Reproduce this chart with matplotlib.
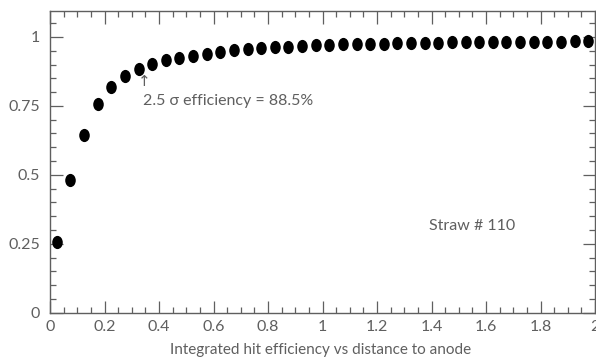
import matplotlib
matplotlib.use("Agg")
import matplotlib.pyplot as plt
from matplotlib.markers import MarkerStyle
from matplotlib.transforms import Affine2D
from matplotlib.ticker import MultipleLocator, FuncFormatter

distance = [0.025 + 0.05 * i for i in range(40)]
efficiency = [0.256, 0.481, 0.646, 0.755, 0.819, 0.858, 0.883, 0.902, 0.915, 0.925,
              0.932, 0.938, 0.945, 0.951, 0.955, 0.959, 0.963, 0.965, 0.967, 0.970,
              0.972, 0.973, 0.974, 0.975, 0.976, 0.977, 0.978, 0.978, 0.979, 0.980,
              0.980, 0.981, 0.981, 0.982, 0.982, 0.983, 0.983, 0.983, 0.984, 0.984]
xlabel = "Integrated hit efficiency vs distance to anode"
annot = "2.5 \u03c3 efficiency = 88.5%"
straw = "Straw # 110"

gray = "#5f5f5f"
plt.rcParams['font.family'] = ['Lato', 'DejaVu Sans']
plt.rcParams['font.weight'] = 'normal'

fig = plt.figure(figsize=(5.96, 3.61), dpi=100)
ax = fig.add_axes([50/596, (361-312.7)/361, 545/596, (312.7-11)/361])

marker = MarkerStyle('o', transform=Affine2D().scale(0.8, 1.0))
ax.plot(distance, efficiency, linestyle='none', marker=marker, markersize=9.5,
        color='black', markeredgewidth=0)

ax.set_xlim(0, 2)
ax.set_ylim(0, 1.094)
ax.xaxis.set_major_locator(MultipleLocator(0.2))
ax.xaxis.set_minor_locator(MultipleLocator(0.05))
ax.yaxis.set_major_locator(MultipleLocator(0.25))
ax.yaxis.set_minor_locator(MultipleLocator(0.05))
fmt = FuncFormatter(lambda v, p: f"{v:g}")
ax.xaxis.set_major_formatter(fmt)
ax.yaxis.set_major_formatter(fmt)
ax.tick_params(which='both', direction='in', top=True, right=True, color=gray,
               labelcolor=gray, labelsize=11.5)
ax.tick_params(which='major', length=9, width=0.9)
ax.tick_params(which='minor', length=4.5, width=0.9)
ax.tick_params(axis='x', pad=5)
ax.tick_params(axis='y', pad=7)
for s in ax.spines.values():
    s.set_color(gray)
    s.set_linewidth(1.0)

ax.set_xlabel(xlabel, color=gray, fontsize=11, labelpad=7, x=0.497)
ax.text(0.347, 0.84, "\u2191", color=gray, fontsize=11, ha='center', va='center',
        family=['DejaVu Sans'])
ax.text(0.34, 0.767, annot, color=gray, fontsize=11.5, ha='left', va='center')
ax.text(1.39, 0.316, straw, color=gray, fontsize=11.5, ha='left', va='center')

fig.savefig("out.png", dpi=100)
